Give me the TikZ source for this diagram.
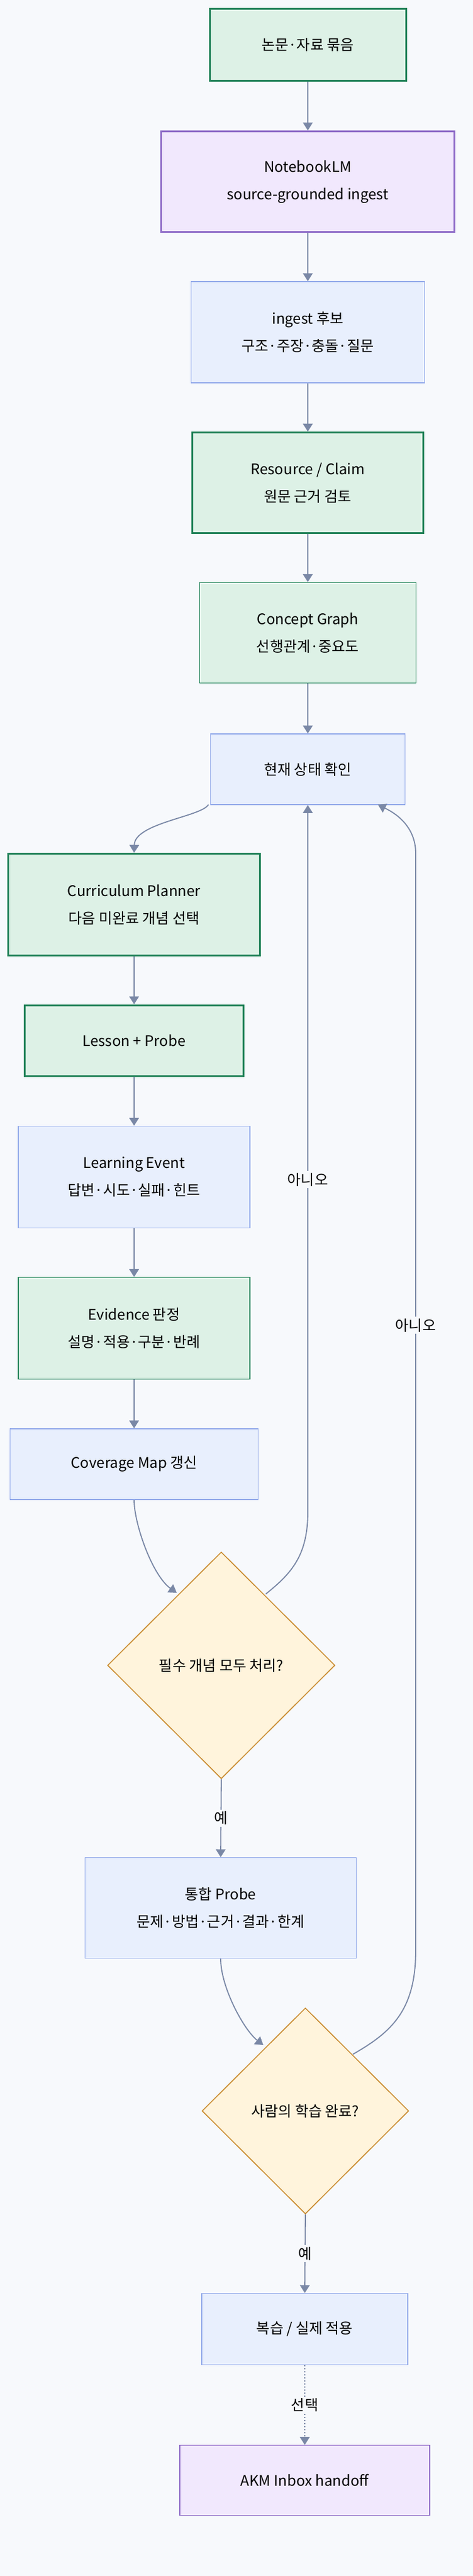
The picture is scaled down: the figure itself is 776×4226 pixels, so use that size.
\documentclass[tikz,border=0pt]{standalone}
\usepackage{fontspec}
\setmainfont{Noto Sans CJK KR}
\usetikzlibrary{shapes.geometric, arrows.meta}
\definecolor{bg}{HTML}{F7F9FC}
\definecolor{edge}{HTML}{7A88A6}
\definecolor{grfill}{HTML}{DDF1E6}
\definecolor{grline}{HTML}{23835A}
\definecolor{pufill}{HTML}{F1E8FD}
\definecolor{puline}{HTML}{8E6BC7}
\definecolor{blfill}{HTML}{E8EFFD}
\definecolor{blline}{HTML}{93AAEA}
\definecolor{dmfill}{HTML}{FFF4DC}
\definecolor{dmline}{HTML}{C98A2E}
\tikzset{
  box/.style={draw, rectangle, align=center, inner sep=0pt, font=\fontsize{24}{45}\selectfont},
  strong/.style={box, fill=grfill, draw=grline, line width=3pt},
  green/.style={box, fill=grfill, draw=grline, line width=1.3pt},
  blue/.style={box, fill=blfill, draw=blline, line width=1.5pt},
  purple/.style={box, fill=pufill, draw=puline},
  decision/.style={draw=dmline, fill=dmfill, diamond, inner sep=0pt, line width=1.5pt, font=\fontsize{24}{45}\selectfont},
  flow/.style={draw=edge, line width=1.8pt, -{Triangle[length=13pt, width=16pt]}},
  tag/.style={fill=bg, inner sep=3pt, font=\fontsize{24}{30}\selectfont}
}
\begin{document}
\begin{tikzpicture}[x=1pt, y=-1pt]
  \fill[bg] (0,0) rectangle (776,4226);
  \useasboundingbox (0,0) rectangle (776,4226);
  % main column
  \node[strong, minimum width=322, minimum height=118] (src) at (505,74) {논문·자료 묶음};
  \node[purple, line width=3pt, minimum width=481, minimum height=165] (nblm) at (505,298) {NotebookLM\\source-grounded ingest};
  \node[blue, minimum width=383, minimum height=166] (cand) at (505,545) {ingest 후보\\구조·주장·충돌·질문};
  \node[strong, minimum width=379, minimum height=165] (claim) at (505,792) {Resource / Claim\\원문 근거 검토};
  \node[green, minimum width=355, minimum height=165] (graph) at (505,1038) {Concept Graph\\선행관계·중요도};
  \node[blue, minimum width=319, minimum height=116] (state) at (505,1262) {현재 상태 확인};
  % learning loop
  \node[strong, minimum width=413, minimum height=167] (plan) at (220,1484) {Curriculum Planner\\다음 미완료 개념 선택};
  \node[strong, minimum width=359, minimum height=116] (lesson) at (220,1707) {Lesson + Probe};
  \node[blue, minimum width=380, minimum height=167] (event) at (220,1931) {Learning Event\\답변·시도·실패·힌트};
  \node[green, minimum width=380, minimum height=167] (evid) at (220,2179) {Evidence 판정\\설명·적용·구분·반례};
  \node[blue, minimum width=407, minimum height=116] (cover) at (220,2402) {Coverage Map 갱신};
  \node[decision, minimum width=373, minimum height=372] (allc) at (363,2732) {필수 개념 모두 처리?};
  \node[blue, minimum width=445, minimum height=165] (synth) at (362,3130) {통합 Probe\\문제·방법·근거·결과·한계};
  \node[decision, minimum width=339, minimum height=338] (done) at (501,3463) {사람의 학습 완료?};
  \node[blue, minimum width=338, minimum height=117] (review) at (500,3821) {복습 / 실제 적용};
  \node[purple, line width=1.3pt, minimum width=410, minimum height=115] (akm) at (500,4069) {AKM Inbox handoff};
  % straight edges
  \draw[flow] (src) -- (nblm);
  \draw[flow] (nblm) -- (cand);
  \draw[flow] (cand) -- (claim);
  \draw[flow] (claim) -- (graph);
  \draw[flow] (graph) -- (state);
  \draw[flow] (plan) -- (lesson);
  \draw[flow] (lesson) -- (event);
  \draw[flow] (event) -- (evid);
  \draw[flow] (evid) -- (cover);
  % curved edges
  \coordinate (s1) at (342,1320);
  \draw[flow] (s1) .. controls (330,1340) and (221,1350) .. (plan.north);
  \draw[flow] (cover.south) .. controls (220,2500) and (250,2585) .. (290,2613);
  \draw[flow] (synth.south) .. controls (362,3260) and (400,3330) .. (432,3355);
  % yes branches
  \draw[flow] (allc.south) -- node[tag] {예} (synth.north);
  \draw[flow] (done.south) -- node[tag] {예} (review.north);
  \draw[flow, dash pattern=on 2pt off 3pt] (review.south) -- node[tag] {선택} (akm.north);
  % no loops
  \draw[flow] (436,2615) .. controls (480,2580) and (505,2550) .. (505,2480)
    -- node[tag, pos=0.47] {아니오} (state.south);
  \draw[flow] (579,3370) .. controls (640,3335) and (682,3300) .. (682,3200)
    -- node[tag, pos=0.57] {아니오} (682,1400) .. controls (682,1350) and (640,1330) .. (620,1320);
\end{tikzpicture}
\end{document}
